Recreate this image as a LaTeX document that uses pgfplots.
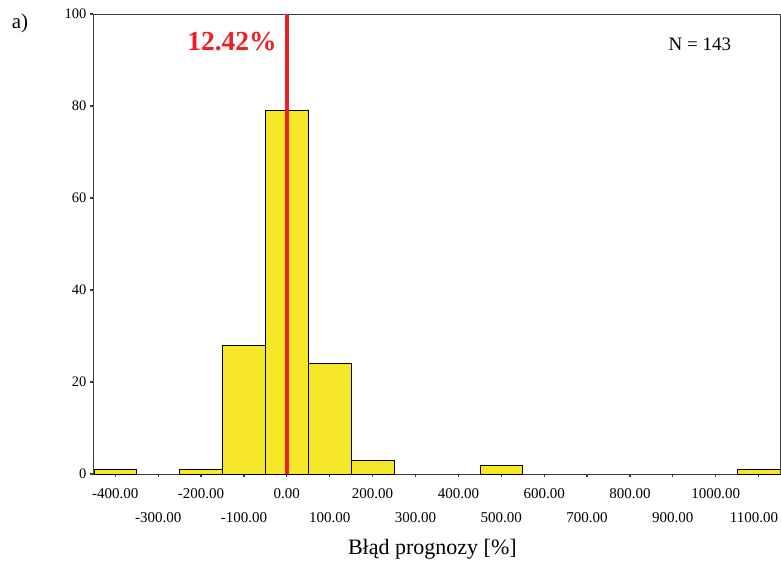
\documentclass[border=0pt]{standalone}
\usepackage{fontspec}
\setmainfont{Liberation Serif}
\usepackage{pgfplots}
\pgfplotsset{compat=1.18}
\definecolor{baryellow}{RGB}{246,230,40}
\definecolor{linered}{RGB}{237,30,36}
\definecolor{axgray}{RGB}{60,60,60}
\begin{document}
\begin{tikzpicture}
\begin{axis}[
  at={(0,0)}, anchor=south west,
  scale only axis, width=687bp, height=460bp,
  xmin=-452, xmax=1150, ymin=0, ymax=100,
  axis line style={axgray, line width=0.8pt},
  tick style={axgray, line width=1.2pt},
  major tick length=3bp, tick align=outside,
  xtick pos=bottom, ytick pos=left,
  xtick={-400,-200,...,1000},
  extra x ticks={-300,-100,...,1100},
  extra x tick labels={-300.00,-100.00,100.00,300.00,500.00,700.00,900.00,\hspace*{-9bp}1100.00},
  extra x tick style={xticklabel style={/tikz/yshift=-24bp}},
  ytick={0,20,...,100},
  scaled x ticks=false,
  xticklabel style={/tikz/yshift=-8bp, font=\fontsize{15bp}{17bp}\selectfont, /pgf/number format/fixed, /pgf/number format/fixed zerofill, /pgf/number format/precision=2, /pgf/number format/1000 sep={}, /pgf/number format/assume math mode=true},
  yticklabel style={font=\fontsize{14.5bp}{17bp}\selectfont, /pgf/number format/assume math mode=true},
  xlabel={Błąd prognozy [\%]},
  xlabel style={at={(axis description cs:0.494,0)}, anchor=center, yshift=-75bp, font=\fontsize{22bp}{26bp}\selectfont},
]
\addplot[ybar, bar width=100, bar shift=0pt, fill=baryellow, draw=black, line width=0.6pt]
  coordinates {(-400,1) (-200,1) (-100,28) (0,79) (100,24) (200,3) (500,2) (1100,1)};
\addplot[linered, line width=3.5bp] coordinates {(0,0) (0,100)};
\node[text=linered, font=\fontsize{27.5bp}{30bp}\selectfont\bfseries] at (axis cs:-128,94) {12.42\%};
\node[font=\fontsize{19bp}{22bp}\selectfont] at (axis cs:963,93.5) {N = 143};
\end{axis}
\node[font=\fontsize{21bp}{24bp}\selectfont] at (-73bp,451bp) {a)};
\pgfresetboundingbox
\useasboundingbox (-93bp,-89bp) rectangle (688bp,474bp);
\end{tikzpicture}
\end{document}
